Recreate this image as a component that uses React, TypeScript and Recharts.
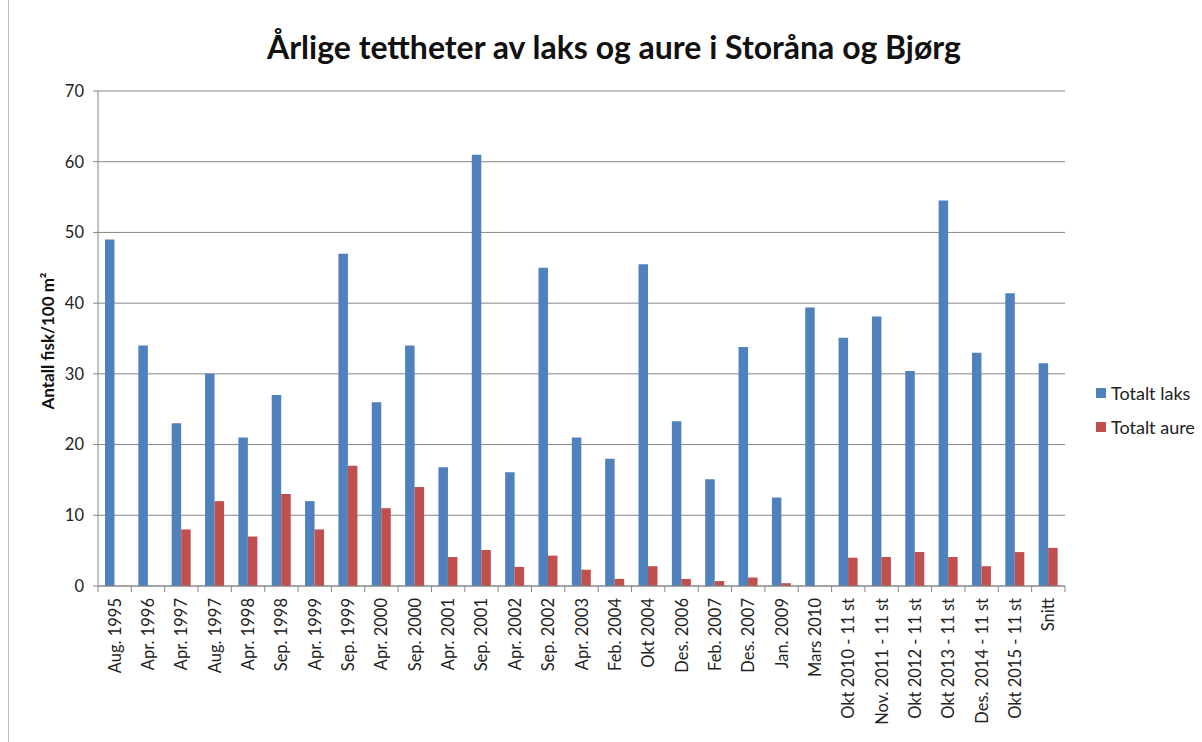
import React from 'react';
import { BarChart, Bar, XAxis, YAxis, CartesianGrid } from 'recharts';

const categories = [
  'Aug. 1995', 'Apr. 1996', 'Apr. 1997', 'Aug. 1997', 'Apr. 1998', 'Sep. 1998', 'Apr. 1999',
  'Sep. 1999', 'Apr. 2000', 'Sep. 2000', 'Apr. 2001', 'Sep. 2001', 'Apr. 2002', 'Sep. 2002',
  'Apr. 2003', 'Feb. 2004', 'Okt 2004', 'Des. 2006', 'Feb. 2007', 'Des. 2007', 'Jan. 2009',
  'Mars 2010', 'Okt 2010 - 11 st', 'Nov. 2011 - 11 st', 'Okt 2012 - 11 st', 'Okt 2013 - 11 st',
  'Des. 2014 - 11 st', 'Okt 2015 - 11 st', 'Snitt',
];

const laks = [
  49, 34, 23, 30, 21, 27, 12, 47, 26, 34, 16.8, 61, 16.1, 45, 21,
  18, 45.5, 23.3, 15.1, 33.8, 12.5, 39.4, 35.1, 38.1, 30.4, 54.5, 33, 41.4, 31.5,
];

const aure = [
  0, 0, 8, 12, 7, 13, 8, 17, 11, 14, 4.1, 5.1, 2.7, 4.3, 2.3,
  1, 2.8, 1, 0.7, 1.2, 0.4, 0, 4, 4.1, 4.8, 4.1, 2.8, 4.8, 5.4,
];

const yTicks = [0, 10, 20, 30, 40, 50, 60, 70];

const series = [
  { key: 'laks', name: 'Totalt laks', color: '#4F81BD' },
  { key: 'aure', name: 'Totalt aure', color: '#C0504D' },
];

const data = categories.map((c, i) => ({ name: c, laks: laks[i], aure: aure[i] }));

const FONT = 'Lato, "Open Sans", sans-serif';
const AXIS = '#868686';

const XTick = (props: any) => {
  const { x, y, payload, width, visibleTicksCount, index } = props;
  const band = width / visibleTicksCount;
  return (
    <g>
      <line x1={x - band / 2} x2={x - band / 2} y1={y - 8} y2={y - 2} stroke={AXIS} />
      {index === visibleTicksCount - 1 && (
        <line x1={x + band / 2} x2={x + band / 2} y1={y - 8} y2={y - 2} stroke={AXIS} />
      )}
      <text
        x={x}
        y={y + 4}
        transform={`rotate(-90 ${x} ${y + 4})`}
        textAnchor="end"
        dominantBaseline="central"
        fill="#222"
        fontSize={16.5}
        fontFamily={FONT}
      >
        {payload.value}
      </text>
    </g>
  );
};

export default function App() {
  return (
    <div style={{ position: 'absolute', left: 0, top: 0, width: 1202, height: 742, background: '#fff' }}>
      <div style={{ position: 'absolute', left: 8, top: 0, bottom: 0, borderLeft: '1px solid #bdbdbd' }} />
      <div
        style={{
          position: 'absolute', left: 26, width: 1176, top: 27, textAlign: 'center',
          fontFamily: FONT, fontWeight: 700, fontSize: 32, color: '#111',
        }}
      >
        Årlige tettheter av laks og aure i Storåna og Bjørg
      </div>
      <div
        style={{
          position: 'absolute', left: 47, top: 341, transform: 'translate(-50%, -50%) rotate(-90deg)',
          whiteSpace: 'nowrap', fontFamily: FONT, fontWeight: 700, fontSize: 17, color: '#111',
        }}
      >
        Antall fisk/100 m²
      </div>
      <div style={{ position: 'absolute', left: 1096, top: 376, fontFamily: FONT, fontSize: 18, color: '#222' }}>
        {series.map((s) => (
          <div key={s.key} style={{ display: 'flex', alignItems: 'center', height: 34 }}>
            <span style={{ width: 10, height: 10, background: s.color, marginRight: 5, display: 'inline-block' }} />
            {s.name}
          </div>
        ))}
      </div>
      <BarChart
        width={1202}
        height={742}
        data={data}
        margin={{ top: 91, right: 137, left: 38, bottom: 0 }}
        barGap={0}
        barSize={9.5}
      >
        <CartesianGrid vertical={false} stroke={AXIS} />
        <XAxis
          dataKey="name"
          interval={0}
          height={156}
          axisLine={{ stroke: AXIS }}
          tickLine={false}
          tick={<XTick />}
        />
        <YAxis
          width={60}
          domain={[0, 70]}
          ticks={yTicks}
          axisLine={{ stroke: AXIS }}
          tickLine={{ stroke: AXIS }}
          tickSize={5}
          tickMargin={9}
          tick={{ fill: '#222', fontSize: 16.5, fontFamily: FONT }}
        />
        {series.map((s) => (
          <Bar key={s.key} dataKey={s.key} name={s.name} fill={s.color} isAnimationActive={false} />
        ))}
      </BarChart>
    </div>
  );
}
